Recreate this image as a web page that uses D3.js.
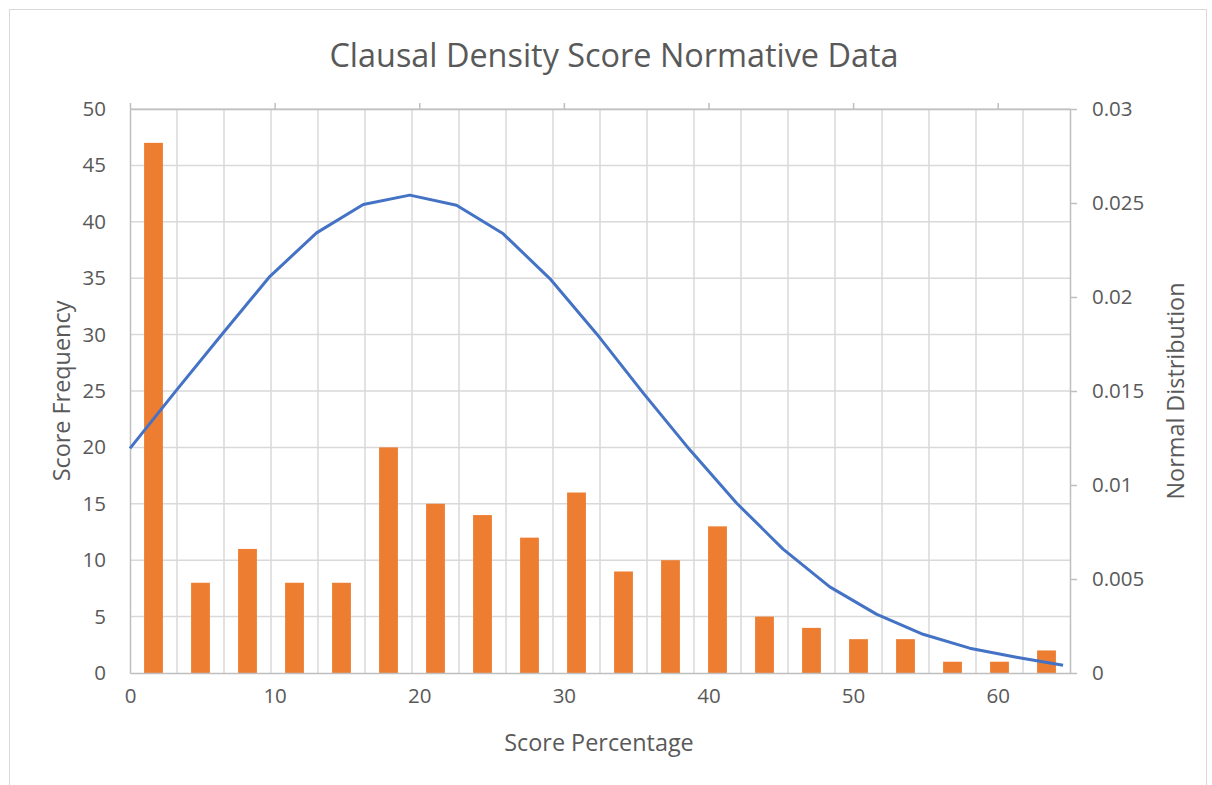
<!DOCTYPE html>
<html>
<head>
<meta charset="utf-8">
<script src="https://cdn.jsdelivr.net/npm/d3@7"></script>
<style>
  body { margin: 0; background: #fff; }
  text { font-family: "Open Sans", "Noto Sans", sans-serif; fill: #595959; }
</style>
</head>
<body>
<div id="chart"></div>
<script>
// score bins (20 columns) and their frequencies
var bins = ["0-3", "3-6", "6-10", "10-13", "13-16", "16-19", "19-23", "23-26", "26-29", "29-32",
            "32-36", "36-39", "39-42", "42-45", "45-49", "49-52", "52-55", "55-58", "58-62", "62-65"];
var freq = [47, 8, 11, 8, 8, 20, 15, 14, 12, 16, 9, 10, 13, 5, 4, 3, 3, 1, 1, 2];

// normal distribution curve (secondary axes)
var normX = [0, 3.23, 6.45, 9.68, 12.9, 16.13, 19.35, 22.58, 25.81, 29.03, 32.26,
             35.48, 38.71, 41.94, 45.16, 48.39, 51.61, 54.84, 58.06, 61.29, 64.52];
var normY = [0.01195, 0.01506, 0.0181, 0.0211, 0.02341, 0.02492, 0.02542, 0.02488, 0.02336, 0.02098, 0.01805,
             0.0149, 0.01187, 0.00904, 0.00659, 0.00458, 0.00313, 0.00206, 0.00132, 0.00084, 0.00041];

var leftTicks = [0, 5, 10, 15, 20, 25, 30, 35, 40, 45, 50];
var rightTicks = [0, 0.005, 0.01, 0.015, 0.02, 0.025, 0.03];
var xTicks = [0, 10, 20, 30, 40, 50, 60];

var W = 1212, H = 785;
var margin = {top: 109, right: 142, bottom: 112, left: 130};
var width = W - margin.left - margin.right,
    height = H - margin.top - margin.bottom;

var gridColor = "#d9d9d9", axisColor = "#bfbfbf";

var svg = d3.select("#chart").append("svg")
    .attr("width", W)
    .attr("height", H);

// chart border
svg.append("rect")
    .attr("x", 9.5).attr("y", 9.5)
    .attr("width", 1197).attr("height", 800)
    .attr("fill", "#fff")
    .attr("stroke", "#d9d9d9");

svg.append("text")
    .attr("x", 614)
    .attr("y", 67)
    .attr("text-anchor", "middle")
    .style("font-size", "32.4px")
    .text("Clausal Density Score Normative Data");

var g = svg.append("g")
    .attr("transform", "translate(" + margin.left + "," + margin.top + ")");

var xBand = d3.scaleBand()
    .domain(bins)
    .range([0, width])
    .paddingInner(0.6)
    .paddingOuter(0.3);

var xLin = d3.scaleLinear().domain([0, 65]).range([0, width]);
var yLeft = d3.scaleLinear().domain([0, 50]).range([height, 0]);
var yRight = d3.scaleLinear().domain([0, 0.03]).range([height, 0]);

// gridlines
var grid = g.append("g").attr("class", "grid");
grid.selectAll(".hgrid")
    .data(leftTicks.slice(1))
    .enter().append("line")
    .attr("x1", 0).attr("x2", width)
    .attr("y1", function (d) { return yLeft(d); })
    .attr("y2", function (d) { return yLeft(d); })
    .attr("stroke", gridColor)
    .attr("stroke-width", 1.5);

var gap = (xBand.step() - xBand.bandwidth()) / 2;
grid.selectAll(".vgrid")
    .data(bins.slice(1))
    .enter().append("line")
    .attr("x1", function (d) { return xBand(d) - gap; })
    .attr("x2", function (d) { return xBand(d) - gap; })
    .attr("y1", 0).attr("y2", height)
    .attr("stroke", gridColor)
    .attr("stroke-width", 1.5);

// bars
g.append("g").selectAll("rect")
    .data(freq)
    .enter().append("rect")
    .attr("x", function (d, i) { return xBand(bins[i]); })
    .attr("width", xBand.bandwidth())
    .attr("y", function (d) { return yLeft(d); })
    .attr("height", function (d) { return height - yLeft(d); })
    .attr("fill", "#ed7d31");

// axes
function styleAxis(sel) {
    sel.selectAll(".domain").attr("stroke", axisColor).attr("stroke-width", 1.5);
    sel.selectAll(".tick line").attr("stroke", axisColor).attr("stroke-width", 1.5);
    sel.selectAll("text").style("font-size", "20.5px").attr("fill", "#595959");
}

g.append("g")
    .call(d3.axisLeft(yLeft).tickValues(leftTicks).tickSize(0).tickPadding(24))
    .call(styleAxis);

g.append("g")
    .attr("transform", "translate(" + width + ",0)")
    .call(d3.axisRight(yRight).tickValues(rightTicks).tickSize(7).tickSizeOuter(0).tickPadding(15)
        .tickFormat(function (d) { return String(d); }))
    .call(styleAxis);

g.append("g")
    .attr("transform", "translate(0," + height + ")")
    .call(d3.axisBottom(xLin).tickValues(xTicks).tickSize(0).tickPadding(15))
    .call(styleAxis);

g.append("g")
    .call(d3.axisTop(xLin).tickValues(xTicks).tickSize(6).tickSizeOuter(0).tickFormat(""))
    .call(styleAxis);

// normal curve
var line = d3.line()
    .x(function (d, i) { return xLin(normX[i]); })
    .y(function (d) { return yRight(d); });

g.append("path")
    .datum(normY)
    .attr("d", line)
    .attr("fill", "none")
    .attr("stroke", "#4472c4")
    .attr("stroke-width", 3)
    .attr("stroke-linejoin", "round");

// axis titles
svg.append("text")
    .attr("x", margin.left + width / 2 - 1)
    .attr("y", 751)
    .attr("text-anchor", "middle")
    .style("font-size", "23.4px")
    .text("Score Percentage");

svg.append("text")
    .attr("transform", "translate(70," + (margin.top + height / 2) + ") rotate(-90)")
    .attr("text-anchor", "middle")
    .style("font-size", "23.4px")
    .text("Score Frequency");

svg.append("text")
    .attr("transform", "translate(1184," + (margin.top + height / 2) + ") rotate(-90)")
    .attr("text-anchor", "middle")
    .style("font-size", "23.4px")
    .text("Normal Distribution");
</script>
</body>
</html>
